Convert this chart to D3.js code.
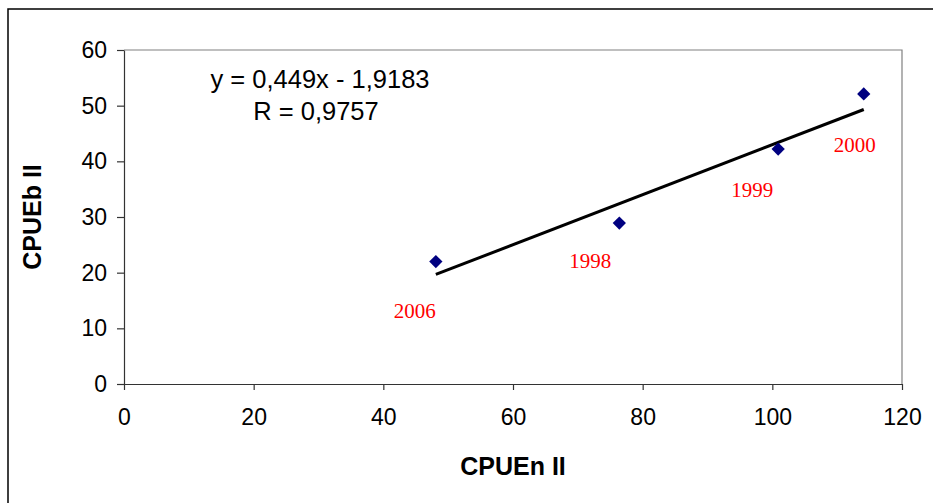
<!DOCTYPE html>
<html>
<head>
<meta charset="utf-8">
<script src="https://cdn.jsdelivr.net/npm/d3@7"></script>
<style>
  body { margin: 0; background: #fff; }
  svg { display: block; }
</style>
</head>
<body>
<div id="chart"></div>
<script>
// ---- data ----
const years = ['2006', '1998', '1999', '2000'];
const cpueN = [48.1, 76.4, 100.9, 114.1];
const cpueB = [22, 28.9, 42.2, 52.1];
const xTicks = [0, 20, 40, 60, 80, 100, 120];
const yTicks = [0, 10, 20, 30, 40, 50, 60];
const trendSlope = 0.449;
const trendIntercept = -1.9183;
const equationLines = ['y = 0,449x - 1,9183', 'R = 0,9757'];

const width = 933, height = 503;
const margin = { top: 50, right: 31, bottom: 119, left: 124 };

const svg = d3.select('#chart').append('svg')
  .attr('width', width)
  .attr('height', height);

// outer chart border (runs off the right/bottom edge like the screenshot)
svg.append('rect')
  .attr('x', 8).attr('y', 9)
  .attr('width', width + 10).attr('height', height + 10)
  .style('fill', 'none')
  .style('stroke', '#000')
  .style('stroke-width', 1.5);

const xScale = d3.scaleLinear().domain([0, 120]).range([margin.left, width - margin.right]);
const yScale = d3.scaleLinear().domain([0, 60]).range([height - margin.bottom, margin.top]);

const fontSans = 'Arial, "Liberation Sans", sans-serif';

/* ---------- plot frame ---------- */
svg.append('path')
  .attr('d', `M${xScale(0)},${yScale(60)}H${xScale(120)}V${yScale(0)}`)
  .style('fill', 'none')
  .style('stroke', '#808080')
  .style('stroke-width', 1.2);

/* ---------- axes ---------- */
svg.append('g')
  .attr('class', 'axis axis--x')
  .attr('transform', `translate(0,${yScale(0)})`)
  .call(d3.axisBottom(xScale).tickValues(xTicks).tickSize(6).tickPadding(19).tickSizeOuter(0));

svg.append('g')
  .attr('class', 'axis axis--y')
  .attr('transform', `translate(${xScale(0)},0)`)
  .call(d3.axisLeft(yScale).tickValues(yTicks).tickSize(7).tickPadding(10).tickSizeOuter(0));

svg.selectAll('.axis path, .axis line')
  .style('stroke', '#333')
  .style('stroke-width', 1.2);
svg.selectAll('.axis text')
  .style('font-family', fontSans)
  .style('font-size', '23px')
  .style('fill', '#000');

/* ---------- axis titles ---------- */
svg.append('text')
  .attr('x', (xScale(0) + xScale(120)) / 2)
  .attr('y', 475)
  .style('text-anchor', 'middle')
  .style('font-family', fontSans)
  .style('font-size', '25px')
  .style('font-weight', 'bold')
  .text('CPUEn II');

svg.append('text')
  .attr('transform', `translate(41,${(yScale(0) + yScale(60)) / 2}) rotate(-90)`)
  .style('text-anchor', 'middle')
  .style('font-family', fontSans)
  .style('font-size', '25px')
  .style('font-weight', 'bold')
  .text('CPUEb II');

/* ---------- trend line ---------- */
const xMin = d3.min(cpueN), xMax = d3.max(cpueN);
svg.append('line')
  .attr('x1', xScale(xMin)).attr('y1', yScale(trendSlope * xMin + trendIntercept))
  .attr('x2', xScale(xMax)).attr('y2', yScale(trendSlope * xMax + trendIntercept))
  .style('stroke', '#000')
  .style('stroke-width', 3);

/* ---------- points ---------- */
const points = years.map((y, i) => ({ year: y, x: cpueN[i], y: cpueB[i] }));
const diamond = d3.symbol().type(d3.symbolSquare).size(88);

svg.append('g').selectAll('path')
  .data(points)
  .enter().append('path')
  .attr('d', diamond)
  .attr('transform', d => `translate(${xScale(d.x)},${yScale(d.y)}) rotate(45)`)
  .style('fill', '#000080');

/* ---------- year labels (manually placed in the original) ---------- */
const labelShift = { '2006': [-21, 56], '1998': [-29, 45], '1999': [-26, 48], '2000': [-9, 58] };
svg.append('g').selectAll('text')
  .data(points)
  .enter().append('text')
  .attr('x', d => xScale(d.x) + labelShift[d.year][0])
  .attr('y', d => yScale(d.y) + labelShift[d.year][1])
  .style('text-anchor', 'middle')
  .style('font-family', '"Times New Roman", "Liberation Serif", serif')
  .style('font-size', '21px')
  .style('fill', '#ff0000')
  .text(d => d.year);

/* ---------- equation ---------- */
svg.append('g').selectAll('text')
  .data(equationLines)
  .enter().append('text')
  .attr('x', (d, i) => i === 0 ? 320 : 316)
  .attr('y', (d, i) => 88 + i * 32)
  .style('text-anchor', 'middle')
  .style('font-family', fontSans)
  .style('font-size', '25.5px')
  .style('fill', '#000')
  .text(d => d);
</script>
</body>
</html>
